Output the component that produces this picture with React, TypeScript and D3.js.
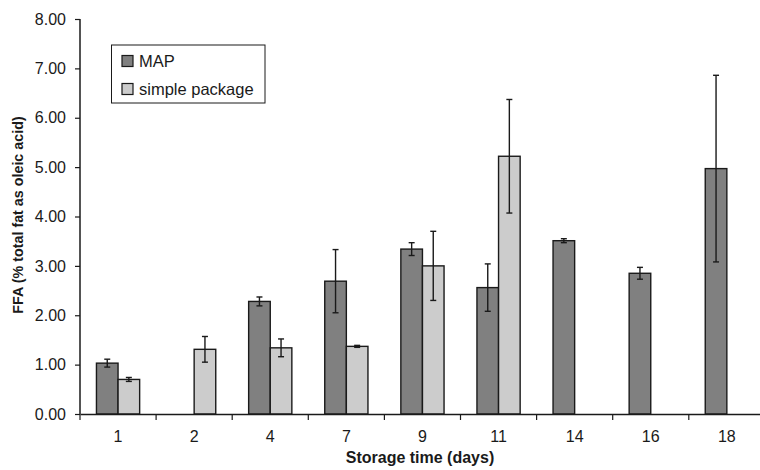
import { useEffect, useRef } from "react";
import * as d3 from "d3";

const DAYS = ["1", "2", "4", "7", "9", "11", "14", "16", "18"];
// null = no measurement for that day
const MAP_VALUES = [1.03, null, 2.28, 2.69, 3.34, 2.56, 3.51, 2.85, 4.97];
const MAP_ERRORS = [0.08, null, 0.09, 0.64, 0.13, 0.48, 0.04, 0.12, 1.89];
const SIMPLE_VALUES = [0.7, 1.31, 1.34, 1.37, 3.0, 5.22, null, null, null];
const SIMPLE_ERRORS = [0.04, 0.26, 0.18, 0.02, 0.7, 1.15, null, null, null];
const Y_TICKS = [0, 1, 2, 3, 4, 5, 6, 7, 8];

const SERIES = [
  { name: "MAP", values: MAP_VALUES, errors: MAP_ERRORS, fill: "#808080", offset: -1 },
  { name: "simple package", values: SIMPLE_VALUES, errors: SIMPLE_ERRORS, fill: "#cccccc", offset: 0 },
];

const W = 760;
const H = 470;
const M = { left: 80, top: 19, bottom: 56 };
const BAND = 76.1;
const BAR_W = 21.6;
const FONT = "'Liberation Sans', Arial, Helvetica, sans-serif";
const INK = "#1a1a1a";

export default function App() {
  const xAxisRef = useRef<SVGGElement>(null);
  const yAxisRef = useRef<SVGGElement>(null);

  const x = d3
    .scaleBand()
    .domain(DAYS)
    .range([M.left, M.left + BAND * DAYS.length])
    .padding(0);
  const y = d3.scaleLinear().domain([0, 8]).range([H - M.bottom, M.top]);

  useEffect(() => {
    if (!xAxisRef.current || !yAxisRef.current) return;
    d3.select(xAxisRef.current)
      .call(d3.axisBottom(x).tickSize(0).tickPadding(17))
      .call((g) => g.select(".domain").attr("stroke", INK).attr("stroke-width", 1.5))
      .call((g) =>
        g
          .selectAll<SVGTextElement, unknown>(".tick text")
          .attr("fill", INK)
          .attr("font-size", 16)
          .attr("font-family", FONT)
      );
    // tick marks sit on the category boundaries
    const xg = d3.select(xAxisRef.current);
    xg.selectAll(".sep").remove();
    xg.selectAll(".sep")
      .data(DAYS)
      .join("line")
      .attr("class", "sep")
      .attr("x1", (d) => x(d) ?? 0)
      .attr("x2", (d) => x(d) ?? 0)
      .attr("y1", 0)
      .attr("y2", 6)
      .attr("stroke", INK)
      .attr("stroke-width", 1.2);

    d3.select(yAxisRef.current)
      .call(
        d3
          .axisLeft(y)
          .tickValues(Y_TICKS)
          .tickSize(5)
          .tickPadding(9)
          .tickFormat((d) => (d as number).toFixed(2))
      )
      .call((g) => g.select(".domain").attr("stroke", INK).attr("stroke-width", 1.5).attr("d", `M0,${y(0)}V${y(8)}`))
      .call((g) => g.selectAll(".tick line").attr("stroke", INK).attr("stroke-width", 1.2))
      .call((g) =>
        g
          .selectAll<SVGTextElement, unknown>(".tick text")
          .attr("fill", INK)
          .attr("font-size", 16)
          .attr("font-family", FONT)
      );
  }, []);

  return (
    <svg width={W} height={H} style={{ position: "absolute", left: 0, top: 0, background: "#fff" }}>
      {/* Bars and error bars */}
      {SERIES.map((s) =>
        DAYS.map((day, i) => {
          const v = s.values[i];
          const e = s.errors[i];
          if (v == null) return null;
          const cx = (x(day) ?? 0) + x.bandwidth() / 2;
          const bx = cx + s.offset * BAR_W;
          const mid = bx + BAR_W / 2;
          return (
            <g key={s.name + day}>
              <rect
                x={bx}
                y={y(v)}
                width={BAR_W}
                height={y(0) - y(v)}
                fill={s.fill}
                stroke={INK}
                strokeWidth={1.4}
              />
              {e != null && (
                <g stroke={INK} strokeWidth={1.4}>
                  <line x1={mid} x2={mid} y1={y(v + e)} y2={y(v - e)} />
                  <line x1={mid - 3} x2={mid + 3} y1={y(v + e)} y2={y(v + e)} />
                  <line x1={mid - 3} x2={mid + 3} y1={y(v - e)} y2={y(v - e)} />
                </g>
              )}
            </g>
          );
        })
      )}

      <g ref={xAxisRef} transform={`translate(0,${y(0)})`} />
      <g ref={yAxisRef} transform={`translate(${M.left},0)`} />

      {/* Axis titles */}
      <text
        x={420}
        y={463}
        textAnchor="middle"
        fontFamily={FONT}
        fontSize={16}
        fontWeight="bold"
        fill={INK}
      >
        Storage time (days)
      </text>
      <text
        transform={`translate(23,215) rotate(-90)`}
        textAnchor="middle"
        fontFamily={FONT}
        fontSize={14.3}
        fontWeight="bold"
        fill={INK}
      >
        FFA (% total fat as oleic acid)
      </text>

      {/* Legend */}
      <g fontFamily={FONT} fontSize={16.5} fill={INK}>
        <rect x={111.5} y={45} width={153.5} height={58} fill="#fff" stroke={INK} strokeWidth={1} />
        {SERIES.map((s, i) => (
          <g key={s.name} transform={`translate(122,${61 + i * 28})`}>
            <rect x={0} y={-5.5} width={11} height={11} fill={s.fill} stroke={INK} strokeWidth={1.2} />
            <text x={17} y={6}>
              {s.name}
            </text>
          </g>
        ))}
      </g>
    </svg>
  );
}
